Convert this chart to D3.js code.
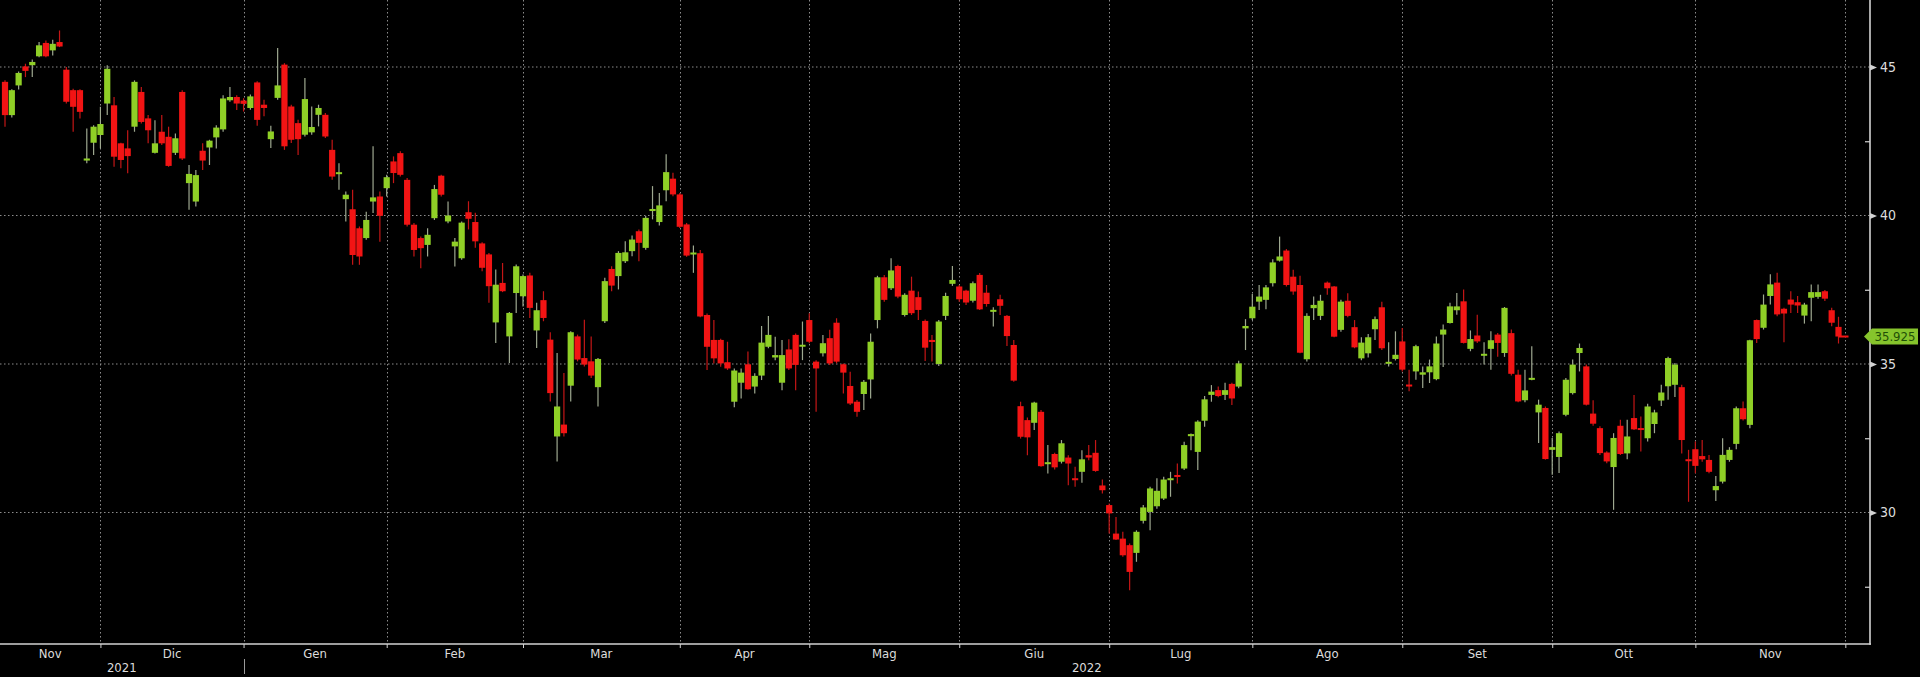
<!DOCTYPE html>
<html>
<head>
<meta charset="utf-8">
<script src="https://d3js.org/d3.v7.min.js"></script>
<style>
  html, body { margin: 0; padding: 0; background: #000; }
  #chart { width: 1920px; height: 677px; }
  text { font-family: "Liberation Sans Narrow", "DejaVu Sans Condensed", "Liberation Sans", Arial, sans-serif; }
</style>
</head>
<body>
<div id="chart"></div>
<script>
// trading days: weekdays from 11 Nov 2021 to 30 Nov 2022, Borsa holidays removed
const firstDay = new Date(2021, 10, 11);
const endDay = new Date(2022, 11, 1);
const holidays = ["2021-12-24", "2021-12-31", "2022-04-15", "2022-04-18", "2022-08-15"];

const monthNames = ["Gen","Feb","Mar","Apr","Mag","Giu","Lug","Ago","Set","Ott","Nov","Dic"];
const yTicks = [30, 35, 40, 45];
const yMinor = [27.5, 32.5, 37.5, 42.5];
const lastPrice = 35.925;

const open = [
44.50,43.38,44.38,45.02,45.06,45.36,45.81,45.56,45.84,44.91,
44.22,44.22,41.85,42.45,42.71,43.77,43.71,42.43,42.26,42.99,
44.16,43.27,42.11,42.82,42.65,42.11,44.16,41.09,40.47,42.18,
42.29,42.63,42.90,43.88,43.99,43.87,43.62,44.48,43.73,42.57,
43.96,45.08,43.67,43.11,42.72,42.80,43.39,43.39,42.21,41.40,
40.55,40.21,39.57,39.24,40.47,40.64,40.92,41.82,42.10,41.20,
39.69,39.24,39.01,39.91,41.34,39.80,38.96,38.56,40.11,39.78,
39.06,38.69,36.40,37.73,35.93,37.39,37.28,37.98,36.13,37.15,
35.82,32.56,32.96,34.27,35.93,35.20,35.09,34.22,36.44,38.20,
37.96,38.46,38.80,39.47,38.91,40.15,39.78,40.85,41.24,40.71,
39.70,38.70,38.73,36.65,35.81,35.81,35.06,33.73,34.37,34.99,
34.24,34.61,35.58,35.22,34.37,35.49,35.98,35.60,36.48,35.08,
35.36,35.87,36.39,34.99,34.26,33.73,33.99,34.48,36.48,37.92,
37.55,38.30,36.65,37.47,37.25,36.45,35.81,35.00,36.62,37.70,
37.61,37.47,37.13,38.00,37.40,36.76,37.18,36.62,35.64,33.58,
33.11,33.02,33.39,31.63,31.97,31.71,31.85,31.15,31.37,31.93,
32.01,30.91,30.25,29.29,29.12,28.90,28.64,29.72,30.02,30.21,
30.47,31.09,31.26,31.48,32.57,32.04,33.09,33.96,34.12,33.96,
34.33,34.24,36.20,36.54,37.10,37.16,37.72,38.48,38.82,37.94,
37.66,35.16,36.88,36.62,37.74,37.61,36.15,37.13,36.24,35.19,
35.36,36.17,36.91,35.01,35.17,35.76,34.30,34.75,34.64,34.72,
34.49,35.99,36.38,36.81,37.11,35.51,35.96,35.28,35.51,35.99,
35.37,36.04,34.64,33.78,34.47,33.37,33.52,32.11,31.87,33.29,
34.02,35.37,34.92,33.33,32.84,32.02,31.53,32.92,31.99,33.18,
32.84,32.50,32.98,33.77,34.25,34.30,34.22,31.79,32.13,31.90,
31.77,30.75,31.04,31.77,32.31,33.51,32.95,36.48,36.22,37.29,
37.74,36.86,37.17,37.08,36.63,37.23,37.26,37.45,36.81,36.25
];

const high = [
44.55,44.25,44.85,45.11,45.25,45.84,45.89,45.92,46.23,45.00,
44.27,44.25,42.93,43.04,43.66,45.06,43.99,42.45,42.87,44.55,
44.33,43.38,43.21,43.38,42.99,42.76,44.22,41.70,41.53,42.43,
42.55,43.04,44.05,44.33,44.05,43.95,44.07,44.52,43.90,43.02,
45.64,45.13,43.73,43.22,44.63,43.67,43.73,43.45,42.55,41.76,
40.81,40.87,39.63,40.13,42.33,40.81,41.37,41.99,42.16,41.26,
39.75,39.29,39.57,41.03,41.37,40.47,39.24,39.80,40.48,40.09,
39.10,38.74,38.18,38.40,36.75,38.35,38.01,38.07,37.06,37.45,
36.07,35.37,34.70,36.10,35.99,36.49,35.93,35.20,37.90,38.29,
38.80,39.13,39.33,39.53,39.98,40.99,40.76,42.06,41.44,40.76,
39.75,38.99,38.84,36.70,36.48,35.85,35.75,34.85,34.85,35.42,
34.69,36.28,36.62,35.92,35.81,35.83,36.03,36.43,36.71,35.13,
35.98,36.15,36.54,35.02,34.74,33.79,34.46,36.03,37.97,38.00,
38.56,38.34,37.38,37.94,37.44,36.50,35.98,36.48,37.40,38.30,
37.66,37.50,37.78,38.06,37.66,36.91,37.33,36.65,35.81,33.73,
33.20,33.73,33.45,32.27,32.01,32.44,31.93,31.54,32.10,32.27,
32.44,31.11,30.30,29.85,29.35,28.96,29.40,30.25,30.87,31.15,
31.20,31.37,31.65,32.38,32.66,33.11,33.92,34.29,34.24,34.37,
34.37,35.11,36.51,37.36,37.66,37.66,38.53,39.29,38.87,38.17,
37.97,36.71,37.27,37.33,37.78,37.63,37.16,37.38,36.48,35.90,
36.01,36.60,37.10,35.73,36.10,36.21,34.81,35.65,34.92,35.15,
35.93,36.33,37.06,37.39,37.51,36.13,36.66,35.73,36.10,36.04,
36.92,36.16,34.81,34.81,35.60,33.80,33.57,32.51,32.73,34.53,
35.15,35.69,34.98,33.78,32.90,32.06,32.67,33.12,33.12,33.96,
33.23,33.66,33.46,34.30,35.24,35.03,34.30,32.11,32.39,32.44,
31.94,31.23,32.50,32.20,33.57,33.74,35.82,36.50,37.34,38.02,
38.07,36.89,37.45,37.29,37.06,37.68,37.68,37.49,36.89,36.59
];

const low = [
42.99,43.30,44.24,44.66,44.66,45.33,45.33,45.39,45.67,43.77,
42.82,43.27,41.76,42.04,42.26,43.38,41.64,41.59,41.42,42.82,
43.10,42.43,42.09,42.37,41.64,42.04,41.87,40.19,40.30,41.53,
41.70,42.26,42.82,43.83,43.55,43.50,43.56,43.02,43.34,42.27,
43.90,42.21,42.44,42.04,42.66,42.72,43.00,42.61,41.20,40.87,
39.80,38.34,38.34,39.18,40.08,39.12,40.64,41.09,41.31,39.63,
38.62,38.22,38.62,39.85,40.64,39.74,38.28,38.51,39.53,38.91,
38.12,37.06,35.71,37.42,35.03,36.72,36.94,36.55,35.54,36.44,
33.74,31.72,32.56,33.74,35.09,34.92,34.53,33.57,36.38,37.45,
37.51,38.40,38.63,38.46,38.85,39.87,39.66,40.48,40.65,39.58,
38.61,38.07,36.57,34.80,35.02,34.91,34.80,33.54,33.84,34.13,
34.01,34.46,35.53,35.13,34.12,34.80,34.12,35.13,35.70,33.39,
35.25,34.97,35.02,34.01,33.62,33.22,33.45,33.84,36.20,37.10,
37.49,37.21,36.60,36.65,36.48,35.10,35.08,34.93,36.48,37.63,
37.10,36.99,37.07,36.82,36.93,36.26,36.65,35.61,34.40,32.49,
31.93,32.78,31.54,31.31,31.45,31.65,30.92,30.87,31.00,31.76,
31.37,30.64,29.29,29.07,28.51,27.38,28.34,29.63,29.40,30.13,
30.42,30.53,30.98,31.43,32.10,31.43,32.89,33.73,33.88,33.79,
33.62,34.18,35.47,36.48,36.82,36.84,37.61,38.45,37.61,37.33,
35.36,35.08,36.48,36.48,37.33,35.90,36.09,36.57,35.53,35.13,
35.22,35.81,35.47,34.92,35.12,34.75,34.08,34.47,34.19,34.36,
34.45,34.90,36.36,36.66,35.69,35.43,35.71,34.98,34.81,35.24,
35.24,34.61,33.71,33.71,34.45,32.34,31.78,31.27,31.33,33.24,
33.97,34.75,33.60,32.92,31.94,31.66,30.09,31.94,31.79,32.78,
32.05,32.39,32.67,33.59,33.80,33.89,31.99,30.36,31.32,31.71,
31.32,30.39,30.98,31.71,32.13,33.10,32.84,35.71,36.16,37.00,
36.61,35.73,36.72,36.72,36.36,36.44,37.20,37.12,36.27,35.69
];

const close = [
43.38,44.22,44.80,44.87,45.17,45.73,45.36,45.78,45.69,43.83,
43.66,43.49,41.92,42.99,43.08,44.94,41.98,41.87,42.00,44.50,
43.15,42.87,42.43,42.43,41.67,42.60,41.92,41.40,41.36,41.85,
42.52,42.96,43.94,43.99,43.77,43.76,44.01,43.22,43.62,42.83,
44.38,42.33,42.55,42.57,43.92,42.98,43.62,42.66,41.31,41.45,
40.70,38.67,38.62,39.85,40.61,39.99,41.29,41.43,41.37,39.69,
38.84,38.90,39.35,40.89,40.70,40.00,39.12,39.76,39.89,39.13,
38.24,37.62,37.67,37.45,36.72,38.29,37.96,36.89,36.81,36.55,
34.02,33.57,32.67,36.07,35.15,34.98,34.61,35.17,37.79,37.64,
38.74,38.76,39.19,39.08,39.92,40.22,40.34,41.46,40.71,39.62,
38.65,38.74,36.60,35.58,35.19,35.02,34.85,34.78,34.71,34.15,
34.60,35.72,35.98,35.30,35.30,34.85,34.97,35.63,35.75,34.85,
35.70,35.02,35.08,34.71,33.67,33.39,34.40,35.75,37.92,37.16,
38.15,37.27,37.33,36.71,36.82,35.55,35.74,36.43,37.29,37.83,
37.18,37.07,37.72,36.84,37.02,36.82,36.96,35.94,34.44,32.55,
32.53,33.70,31.56,31.69,31.52,32.33,31.65,31.09,31.79,31.85,
31.40,30.75,29.97,29.09,28.56,28.00,29.35,30.17,30.81,30.73,
31.11,31.15,31.20,32.27,32.64,33.06,33.81,34.07,33.92,34.12,
33.84,35.02,36.28,36.93,37.27,37.58,38.42,38.62,37.66,37.44,
35.38,36.62,36.99,37.13,37.55,35.92,37.10,36.62,35.56,35.72,
35.90,36.51,35.53,35.07,35.31,34.81,34.25,35.60,34.72,34.92,
35.69,36.16,36.94,36.94,35.71,35.84,35.76,35.34,35.80,35.71,
36.89,34.67,33.74,34.11,34.53,33.63,31.80,32.20,32.67,34.47,
34.98,35.54,33.63,32.99,32.00,31.72,32.51,31.97,32.56,32.80,
32.78,33.57,33.37,34.04,35.20,34.98,32.44,31.73,31.57,31.79,
31.37,30.89,31.94,32.11,33.51,33.14,35.80,35.84,37.00,37.68,
36.67,36.70,37.00,36.97,37.00,37.42,37.42,37.20,36.39,35.925
];

////////////////////////////////////////////////////////////////////////

const width = 1920, height = 677;
const plotRight = 1870, plotBottom = 644;
const upColor = "#8fcf26", downColor = "#f21414";
const upWick = "#9ea890", downWick = "#c41616";
const gridColor = "#8c8c8c", axisColor = "#d2d2d2", labelColor = "#dcdcdc";

const fmtDay = d3.timeFormat("%Y-%m-%d");
const days = d3.timeDay.range(firstDay, endDay)
  .filter(d => d.getDay() !== 0 && d.getDay() !== 6 && !holidays.includes(fmtDay(d)));

const candles = days.map((d, i) => ({
  i: i, date: d, o: open[i], h: high[i], l: low[i], c: close[i]
}));

// index of the first trading day of each month (plus the one after the last day)
const monthStarts = [];
days.forEach((d, i) => {
  if (i > 0 && d.getMonth() !== days[i - 1].getMonth()) monthStarts.push(i);
});
monthStarts.push(days.length);

const x = d3.scaleLinear().domain([0, days.length - 1]).range([5, 1838.5]);
const y = d3.scaleLinear().domain([30, 45]).range([512.5, 67]);

const svg = d3.select("#chart").append("svg")
  .attr("width", width)
  .attr("height", height)
  .style("background", "#000");

// grid
svg.append("g").selectAll("line")
  .data(yTicks)
  .join("line")
  .attr("x1", 0).attr("x2", plotRight)
  .attr("y1", d => y(d)).attr("y2", d => y(d))
  .attr("stroke", gridColor)
  .attr("stroke-width", 1)
  .attr("stroke-dasharray", "1.5,2.5");

svg.append("g").selectAll("line")
  .data(monthStarts)
  .join("line")
  .attr("x1", d => Math.round(x(d)) + 0.5).attr("x2", d => Math.round(x(d)) + 0.5)
  .attr("y1", 0).attr("y2", plotBottom)
  .attr("stroke", gridColor)
  .attr("stroke-width", 1)
  .attr("stroke-dasharray", "1.5,2.5");

// candles
const cg = svg.append("g");
const bodyW = 6.2;

cg.selectAll(".wick")
  .data(candles)
  .join("line")
  .attr("class", "wick")
  .attr("x1", d => x(d.i)).attr("x2", d => x(d.i))
  .attr("y1", d => y(d.h)).attr("y2", d => y(d.l))
  .attr("stroke", d => d.c >= d.o ? upWick : downWick)
  .attr("stroke-width", 1.2);

cg.selectAll(".body")
  .data(candles)
  .join("rect")
  .attr("class", "body")
  .attr("x", d => x(d.i) - bodyW / 2)
  .attr("width", bodyW)
  .attr("y", d => {
    const top = y(Math.max(d.o, d.c)), h = Math.abs(y(d.o) - y(d.c));
    return h < 2 ? (top + h / 2 - 1) : top;
  })
  .attr("height", d => Math.max(2, Math.abs(y(d.o) - y(d.c))))
  .attr("fill", d => d.c >= d.o ? upColor : downColor);

// last price stub
const last = candles[candles.length - 1];
cg.append("line")
  .attr("x1", x(last.i)).attr("x2", x(last.i) + 10)
  .attr("y1", y(lastPrice)).attr("y2", y(lastPrice))
  .attr("stroke", downColor)
  .attr("stroke-width", 2);

// x axis
const xAxis = svg.append("g")
  .attr("transform", `translate(0,${plotBottom})`)
  .call(d3.axisBottom(x).tickValues(monthStarts).tickSize(4).tickFormat(""));
xAxis.select(".domain").remove();
xAxis.selectAll(".tick line").attr("stroke", axisColor);

svg.append("line")
  .attr("x1", 0).attr("x2", plotRight + 1)
  .attr("y1", plotBottom).attr("y2", plotBottom)
  .attr("stroke", axisColor)
  .attr("stroke-width", 1.6);

// month labels centered between boundaries
const bounds = [x.invert(0)].concat(monthStarts);
const monthLabels = bounds.slice(0, -1).map((b, k) => {
  const idx = k === 0 ? 0 : monthStarts[k - 1];
  return { name: monthNames[days[idx].getMonth()], mid: (x(b) + x(bounds[k + 1])) / 2 };
});
svg.append("g").selectAll("text")
  .data(monthLabels)
  .join("text")
  .attr("x", d => d.mid)
  .attr("y", 657.5)
  .attr("text-anchor", "middle")
  .attr("fill", labelColor)
  .attr("font-size", 13)
  .text(d => d.name);

// year labels
const yearBreak = days.findIndex(d => d.getFullYear() === 2022);
const years = [
  { label: "2021", from: 0, to: x(yearBreak) },
  { label: "2022", from: x(yearBreak), to: plotRight + 60 }
];
svg.append("g").selectAll("text")
  .data(years)
  .join("text")
  .attr("x", d => (d.from + d.to) / 2)
  .attr("y", 671.5)
  .attr("text-anchor", "middle")
  .attr("fill", labelColor)
  .attr("font-size", 13)
  .text(d => d.label);
svg.append("line")
  .attr("x1", Math.round(x(yearBreak)) + 0.5).attr("x2", Math.round(x(yearBreak)) + 0.5)
  .attr("y1", 659).attr("y2", 674)
  .attr("stroke", "#9a9a9a")
  .attr("stroke-width", 1);

// y axis
svg.append("line")
  .attr("x1", plotRight).attr("x2", plotRight)
  .attr("y1", 0).attr("y2", plotBottom + 0.8)
  .attr("stroke", axisColor)
  .attr("stroke-width", 1.6);

const yAxis = svg.append("g")
  .attr("transform", `translate(${plotRight},0)`)
  .call(d3.axisRight(y).tickValues(yTicks).tickSize(0).tickPadding(10));
yAxis.select(".domain").remove();
yAxis.selectAll(".tick text")
  .attr("fill", labelColor)
  .attr("font-size", 14)
  .style("font-family", "'Liberation Sans Narrow', 'DejaVu Sans Condensed', 'Liberation Sans', Arial, sans-serif");
yAxis.selectAll(".tick").append("path")
  .attr("d", "M0,-3L7,0L0,3Z")
  .attr("fill", axisColor);

const yMinorAxis = svg.append("g")
  .attr("transform", `translate(${plotRight},0)`)
  .call(d3.axisLeft(y).tickValues(yMinor).tickSize(5).tickFormat(""));
yMinorAxis.select(".domain").remove();
yMinorAxis.selectAll(".tick line").attr("stroke", axisColor).attr("stroke-width", 1.2);

// last price tag
const ty = y(lastPrice);
const tag = svg.append("g");
tag.append("path")
  .attr("d", `M${plotRight - 6},${ty}L${plotRight + 2},${ty - 8}L1918,${ty - 8}L1918,${ty + 8}L${plotRight + 2},${ty + 8}Z`)
  .attr("fill", "#86c42c");
tag.append("text")
  .attr("x", 1895)
  .attr("y", ty + 4.5)
  .attr("text-anchor", "middle")
  .attr("fill", "#1f4f06")
  .attr("font-size", 13)
  .text(d3.format(".3f")(lastPrice));
</script>
</body>
</html>
